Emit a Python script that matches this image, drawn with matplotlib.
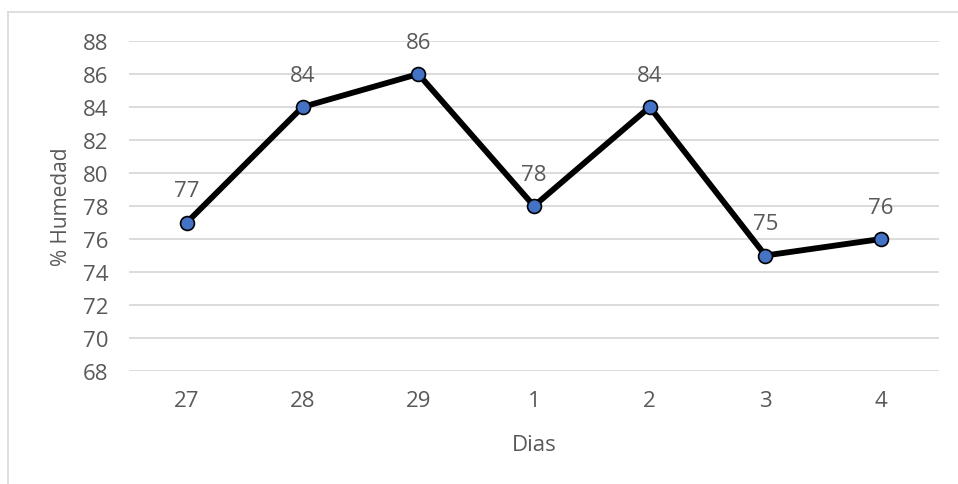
import matplotlib.pyplot as plt
from matplotlib.lines import Line2D

dias = ["27", "28", "29", "1", "2", "3", "4"]
humedad = [77, 84, 86, 78, 84, 75, 76]
yticks = [68, 70, 72, 74, 76, 78, 80, 82, 84, 86, 88]

plt.rcParams['font.family'] = ['Open Sans', 'DejaVu Sans']
gray = "#595959"

fig = plt.figure(figsize=(9.58, 4.85), dpi=100)
ax = fig.add_axes([129 / 958, 1 - 372 / 485, 810 / 958, 330 / 485])

x = list(range(len(dias)))
ax.plot(x, humedad, color="black", linewidth=4.2, marker="o", markersize=10,
        markerfacecolor="#4472C4", markeredgecolor="black", markeredgewidth=1.2,
        zorder=3)

for xi, v in zip(x, humedad):
    ax.annotate(str(v), (xi, v), xytext=(0, 23), textcoords="offset points",
                ha="center", va="center", fontsize=16, color=gray)

ax.set_xlim(-0.5, len(dias) - 0.5)
ax.set_ylim(68, 88)
ax.set_xticks(x)
ax.set_xticklabels(dias)
ax.set_yticks(yticks)
ax.tick_params(length=0, labelsize=16, colors=gray)
ax.tick_params(axis="y", pad=15)
ax.tick_params(axis="x", pad=14)
ax.grid(axis="y", color="#D9D9D9", linewidth=1.3)
ax.set_axisbelow(True)
for s in ax.spines.values():
    s.set_visible(False)

ax.set_ylabel("% Humedad", fontsize=15, color=gray, labelpad=8)
ax.set_xlabel("Dias", fontsize=16, color=gray, labelpad=16)

# chart border
fig.add_artist(Line2D([8 / 958, 1], [1 - 13 / 485, 1 - 13 / 485],
                      transform=fig.transFigure, color="#D9D9D9", linewidth=1.2))
fig.add_artist(Line2D([8 / 958, 8 / 958], [0, 1 - 13 / 485],
                      transform=fig.transFigure, color="#D9D9D9", linewidth=1.2))

fig.savefig("out.png", dpi=100)
